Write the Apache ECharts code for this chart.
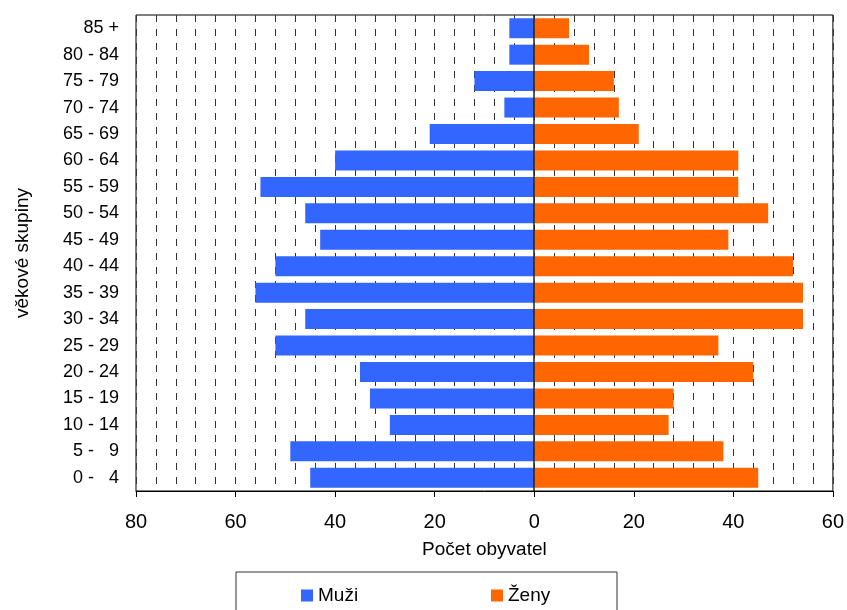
<!DOCTYPE html>
<html>
<head>
<meta charset="utf-8">
<script src="https://cdn.jsdelivr.net/npm/echarts@6/dist/echarts.min.js"></script>
<style>
  html, body { margin: 0; padding: 0; background: #fff; }
  #chart { width: 847px; height: 610px; }
</style>
</head>
<body>
<div id="chart"></div>
<script>
// věkové skupiny, odspodu nahoru
const ageGroups = ["0 -   4", "5 -   9", "10 - 14", "15 - 19", "20 - 24", "25 - 29", "30 - 34", "35 - 39",
  "40 - 44", "45 - 49", "50 - 54", "55 - 59", "60 - 64", "65 - 69", "70 - 74", "75 - 79", "80 - 84", "85 +"];
const men = [45, 49, 29, 33, 35, 52, 46, 56, 52, 43, 46, 55, 40, 21, 6, 12, 5, 5];
const women = [45, 38, 27, 28, 44, 37, 54, 54, 52, 39, 47, 41, 41, 21, 17, 16, 11, 7];
const xTicks = [-80, -60, -40, -20, 0, 20, 40, 60];

const font = "Liberation Sans, Arial, sans-serif";
const chart = echarts.init(document.getElementById("chart"));

chart.setOption({
  animation: false,
  textStyle: { fontFamily: font, color: "#000" },
  grid: {
    left: 136, right: 13, top: 15, bottom: 119,
    show: true, borderColor: "#000", borderWidth: 1
  },
  graphic: [{
    type: "rect", z: 0,
    shape: { x: 236, y: 572, width: 381, height: 60 },
    style: { fill: "#fff", stroke: "#333", lineWidth: 1 }
  }],
  legend: [
    { data: ["Muži"], left: 301, top: 586, padding: 0, itemWidth: 12, itemHeight: 12, itemGap: 5,
      icon: "rect", textStyle: { fontSize: 19, fontFamily: font, color: "#000" } },
    { data: ["Ženy"], left: 491, top: 586, padding: 0, itemWidth: 12, itemHeight: 12, itemGap: 5,
      icon: "rect", textStyle: { fontSize: 19, fontFamily: font, color: "#000" } }
  ],
  xAxis: {
    type: "value",
    min: xTicks[0], max: xTicks[xTicks.length - 1], interval: 20,
    name: "Počet obyvatel", nameLocation: "middle", nameGap: 49,
    nameTextStyle: { fontSize: 19, color: "#000" },
    axisLine: { show: true, onZero: false, lineStyle: { color: "#000" } },
    axisTick: { show: true, length: 6, lineStyle: { color: "#000" } },
    axisLabel: { fontSize: 20, color: "#000", margin: 21, formatter: v => Math.abs(v) },
    splitLine: { show: true, lineStyle: { color: "#333", type: [7, 7] } },
    minorTick: { show: false, splitNumber: 5 },
    minorSplitLine: { show: true, lineStyle: { color: "#333", type: [7, 7] } }
  },
  yAxis: {
    type: "category",
    data: ageGroups,
    name: "věkové skupiny", nameLocation: "middle", nameGap: 104, nameRotate: 90,
    nameTextStyle: { fontSize: 19, color: "#000" },
    axisLine: { show: false, onZero: false },
    axisTick: { show: false },
    axisLabel: { fontSize: 18, color: "#000", margin: 17 },
    splitLine: { show: false }
  },
  series: [
    {
      name: "Muži", type: "bar", stack: "pyramid", barWidth: 20,
      data: men.map(v => -v),
      itemStyle: { color: "#3366FF" },
      markLine: {
        silent: true, symbol: "none", label: { show: false },
        lineStyle: { color: "#222", type: "solid", width: 1.5 },
        data: [{ xAxis: 0 }]
      }
    },
    {
      name: "Ženy", type: "bar", stack: "pyramid", barWidth: 20,
      data: women,
      itemStyle: { color: "#FF6600" }
    }
  ]
});
</script>
</body>
</html>
